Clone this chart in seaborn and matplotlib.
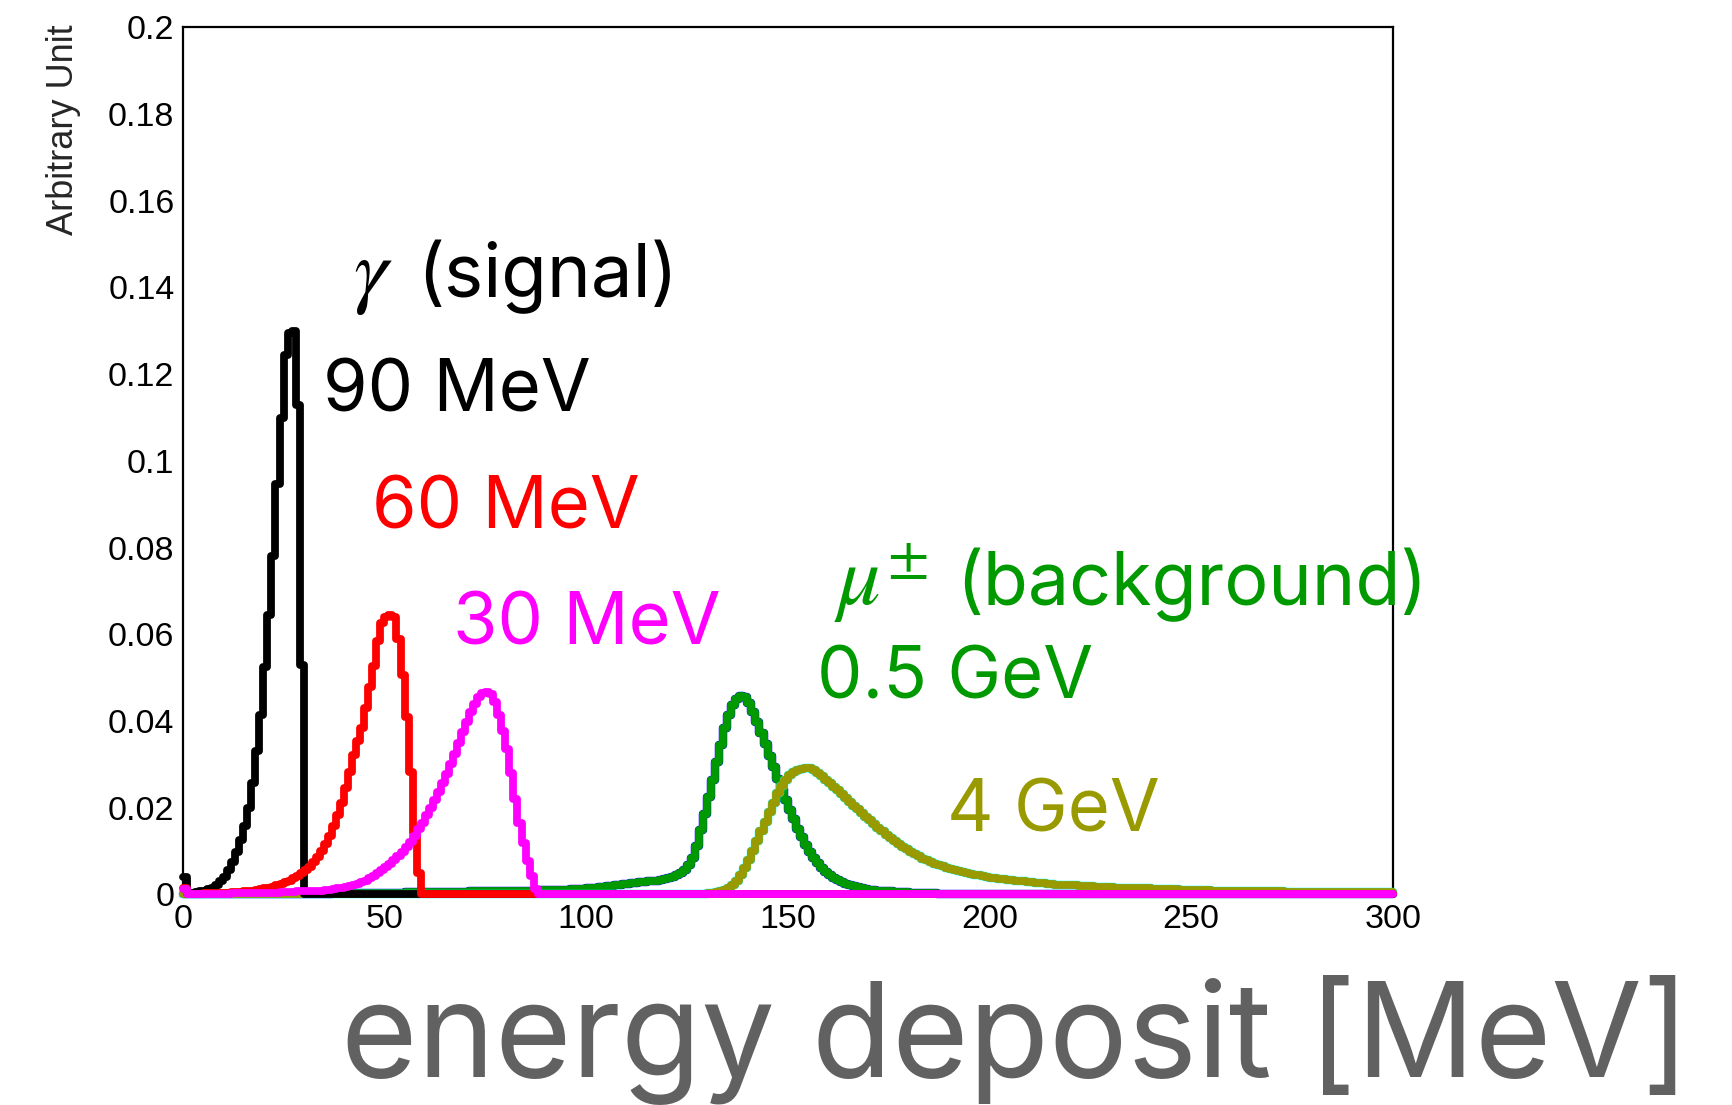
import numpy as np
import pandas as pd
import matplotlib
matplotlib.use("Agg")
import matplotlib.pyplot as plt
from matplotlib.ticker import MultipleLocator, FuncFormatter
import seaborn as sns

# ---------------------------------------------------------------------------
# Energy-deposit spectra, 1 MeV bins from 0 to 300 MeV.
# Each list holds consecutive bin contents starting at bin index *_first;
# all other bins are empty.
# ---------------------------------------------------------------------------
n_bins = 300
e_range = (0, 300)

gamma90_first = 0
gamma90 = [0.0040, 0.0003, 0.0004, 0.0005, 0.0007, 0.0009, 0.0012, 0.0016, 0.0022, 0.0030,
           0.0040, 0.0057, 0.0074, 0.0098, 0.0125, 0.0157, 0.0200, 0.0257, 0.0330, 0.0415,
           0.0525, 0.0644, 0.0780, 0.0946, 0.1100, 0.1244, 0.1295, 0.1300, 0.1130, 0.0530]

gamma60_first = 0
gamma60 = [0.0015, 0.0002, 0.0002, 0.0002, 0.0002, 0.0003, 0.0003, 0.0003, 0.0003, 0.0004,
           0.0004, 0.0004, 0.0005, 0.0005, 0.0006, 0.0007, 0.0008, 0.0009, 0.0010, 0.0012,
           0.0014, 0.0016, 0.0018, 0.0021, 0.0024, 0.0028, 0.0032, 0.0037, 0.0043, 0.0049,
           0.0056, 0.0064, 0.0074, 0.0086, 0.0100, 0.0117, 0.0135, 0.0157, 0.0183, 0.0212,
           0.0245, 0.0282, 0.0322, 0.0355, 0.0385, 0.0430, 0.0478, 0.0527, 0.0585, 0.0625,
           0.0640, 0.0645, 0.0640, 0.0590, 0.0506, 0.0410, 0.0283, 0.0141, 0.0049]

gamma30_first = 0
gamma30 = [0.0012, 0.0002, 0.0002, 0.0002, 0.0002, 0.0002, 0.0002, 0.0002, 0.0002, 0.0002,
           0.0002, 0.0002, 0.0003, 0.0003, 0.0003, 0.0003, 0.0003, 0.0003, 0.0003, 0.0003,
           0.0003, 0.0003, 0.0004, 0.0004, 0.0005, 0.0005, 0.0006, 0.0006, 0.0007, 0.0007,
           0.0007, 0.0008, 0.0008, 0.0009, 0.0009, 0.0010, 0.0011, 0.0013, 0.0014, 0.0016,
           0.0018, 0.0020, 0.0022, 0.0025, 0.0028, 0.0032, 0.0037, 0.0043, 0.0049, 0.0056,
           0.0063, 0.0071, 0.0079, 0.0088, 0.0098, 0.0110, 0.0122, 0.0136, 0.0150, 0.0166,
           0.0183, 0.0200, 0.0218, 0.0237, 0.0257, 0.0278, 0.0300, 0.0325, 0.0350, 0.0375,
           0.0398, 0.0420, 0.0440, 0.0455, 0.0465, 0.0468, 0.0462, 0.0445, 0.0415, 0.0378,
           0.0335, 0.0280, 0.0220, 0.0165, 0.0118, 0.0078, 0.0042, 0.0012]

muon05_first = 30
muon05 = [0.0001, 0.0001, 0.0001, 0.0002, 0.0002, 0.0002, 0.0002, 0.0003, 0.0003, 0.0003,
          0.0003, 0.0003, 0.0004, 0.0004, 0.0004, 0.0004, 0.0004, 0.0004, 0.0004, 0.0004,
          0.0004, 0.0004, 0.0004, 0.0004, 0.0004, 0.0005, 0.0005, 0.0005, 0.0005, 0.0005,
          0.0005, 0.0005, 0.0005, 0.0005, 0.0006, 0.0006, 0.0006, 0.0006, 0.0006, 0.0006,
          0.0006, 0.0007, 0.0007, 0.0007, 0.0007, 0.0007, 0.0007, 0.0008, 0.0008, 0.0008,
          0.0008, 0.0008, 0.0008, 0.0009, 0.0009, 0.0009, 0.0009, 0.0009, 0.0010, 0.0010,
          0.0010, 0.0010, 0.0010, 0.0011, 0.0011, 0.0011, 0.0012, 0.0012, 0.0012, 0.0013,
          0.0014, 0.0015, 0.0016, 0.0017, 0.0018, 0.0019, 0.0020, 0.0022, 0.0023, 0.0024,
          0.0025, 0.0026, 0.0027, 0.0028, 0.0029, 0.0030, 0.0031, 0.0032, 0.0034, 0.0035,
          0.0037, 0.0040, 0.0045, 0.0050, 0.0057, 0.0067, 0.0085, 0.0113, 0.0148, 0.0185,
          0.0225, 0.0265, 0.0305, 0.0345, 0.0383, 0.0414, 0.0437, 0.0452, 0.0458, 0.0455,
          0.0442, 0.0422, 0.0398, 0.0373, 0.0348, 0.0320, 0.0293, 0.0267, 0.0243, 0.0218,
          0.0195, 0.0173, 0.0152, 0.0133, 0.0115, 0.0099, 0.0085, 0.0073, 0.0062, 0.0053,
          0.0045, 0.0039, 0.0034, 0.0029, 0.0025, 0.0022, 0.0019, 0.0017, 0.0015, 0.0013,
          0.0011, 0.0010, 0.0009, 0.0008, 0.0007, 0.0007, 0.0006, 0.0006, 0.0005, 0.0005,
          0.0004, 0.0004, 0.0004, 0.0003, 0.0003, 0.0003, 0.0003, 0.0002, 0.0002, 0.0002]

muon4_first = 128
muon4 = [0.0001, 0.0002, 0.0003, 0.0004, 0.0006, 0.0008, 0.0011, 0.0015, 0.0021, 0.0032,
         0.0045, 0.0062, 0.0080, 0.0100, 0.0123, 0.0146, 0.0168, 0.0190, 0.0212, 0.0233,
         0.0250, 0.0265, 0.0276, 0.0283, 0.0287, 0.0290, 0.0292, 0.0291, 0.0288, 0.0281,
         0.0274, 0.0265, 0.0257, 0.0249, 0.0240, 0.0231, 0.0222, 0.0213, 0.0205, 0.0197,
         0.0188, 0.0179, 0.0171, 0.0162, 0.0154, 0.0146, 0.0138, 0.0131, 0.0123, 0.0116,
         0.0110, 0.0104, 0.0098, 0.0093, 0.0088, 0.0083, 0.0079, 0.0075, 0.0071, 0.0068,
         0.0065, 0.0062, 0.0059, 0.0057, 0.0054, 0.0052, 0.0050, 0.0048, 0.0046, 0.0044,
         0.0042, 0.0041, 0.0039, 0.0038, 0.0036, 0.0035, 0.0034, 0.0033, 0.0032, 0.0031,
         0.0030, 0.0029, 0.0028, 0.0027, 0.0027, 0.0026, 0.0025, 0.0024, 0.0023, 0.0023,
         0.0022, 0.0022, 0.0021, 0.0021, 0.0020, 0.0020, 0.0019, 0.0019, 0.0018, 0.0018,
         0.0017, 0.0017, 0.0017, 0.0016, 0.0016, 0.0016, 0.0015, 0.0015, 0.0015, 0.0014,
         0.0014, 0.0014, 0.0013, 0.0013, 0.0013, 0.0012, 0.0012, 0.0012, 0.0012, 0.0011,
         0.0011, 0.0011, 0.0011, 0.0010, 0.0010, 0.0010, 0.0010, 0.0009, 0.0009, 0.0009,
         0.0009, 0.0009, 0.0008, 0.0008, 0.0008, 0.0008, 0.0008, 0.0008, 0.0007, 0.0007,
         0.0007, 0.0007, 0.0007, 0.0007, 0.0007, 0.0006, 0.0006, 0.0006, 0.0006, 0.0006,
         0.0006, 0.0006, 0.0006, 0.0006, 0.0005, 0.0005, 0.0005, 0.0005, 0.0005, 0.0005,
         0.0005, 0.0005, 0.0005, 0.0005, 0.0005, 0.0005, 0.0005, 0.0005, 0.0005, 0.0005,
         0.0005, 0.0005]

# drawing order, colours and line widths of the spectra
samples = [
    ("mu05_plus", muon05_first, muon05, "#0000ff", 6.1),
    ("mu05",      muon05_first, muon05, "#009900", 5.6),
    ("mu4_plus",  muon4_first,  muon4,  "#00ffff", 6.1),
    ("mu4",       muon4_first,  muon4,  "#999900", 5.6),
    ("g90",       gamma90_first, gamma90, "#000000", 5.6),
    ("g60",       gamma60_first, gamma60, "#ff0000", 5.6),
    ("g30",       gamma30_first, gamma30, "#ff00ff", 5.6),
]

centers = np.arange(n_bins) + 0.5
frames = []
for name, first, vals, _, _ in samples:
    h = np.zeros(n_bins)
    h[first:first + len(vals)] = vals
    frames.append(pd.DataFrame({"edep": centers, "content": h, "sample": name}))
spectra = pd.concat(frames, ignore_index=True)

# ---------------------------------------------------------------------------
sns.set_style("white")
plt.rcParams["font.family"] = ["Liberation Sans", "DejaVu Sans"]
plt.rcParams["mathtext.fontset"] = "stix"

fig = plt.figure(figsize=(17.32, 11.05), dpi=100)
ax = fig.add_axes([0.1055, 0.1905, 0.6986, 0.7848])

for name, first, vals, color, lw in samples:
    sns.histplot(data=spectra[spectra["sample"] == name], x="edep", weights="content",
                 bins=n_bins, binrange=e_range, element="step", fill=False,
                 color=color, linewidth=lw, ax=ax, zorder=3, clip_on=False)

ax.set_xlim(0, 300)
ax.set_ylim(0, 0.2)
ax.set_xlabel("")
ax.set_ylabel("")

for s in ax.spines.values():
    s.set_linewidth(1.6)
    s.set_color("black")

ax.xaxis.set_major_locator(MultipleLocator(50))
ax.xaxis.set_minor_locator(MultipleLocator(10))
ax.yaxis.set_major_locator(MultipleLocator(0.02))
ax.yaxis.set_minor_locator(MultipleLocator(0.005))
ax.yaxis.set_major_formatter(FuncFormatter(lambda v, p: f"{v:g}"))
ax.xaxis.set_major_formatter(FuncFormatter(lambda v, p: f"{v:g}"))

ax.tick_params(axis="both", which="both", direction="in", colors="black",
               top=False, right=False, labelsize=24.5, width=1.6)
ax.tick_params(axis="y", which="major", length=26, pad=6)
ax.tick_params(axis="y", which="minor", length=13)
ax.tick_params(axis="x", which="major", length=14, pad=7)
ax.tick_params(axis="x", which="minor", length=6)

fig.text(0.0364, 0.9775, "Arbitrary Unit", rotation=90, ha="center", va="top",
         fontsize=26)

# labels of the individual spectra
ann_font = ["Inter", "DejaVu Sans"]
ann = dict(family=ann_font, ha="left", va="baseline")
ax.text(42.2, 0.1378, r"$\gamma$", color="black", fontsize=62, **ann)
ax.text(58.2, 0.1378, "(signal)", color="black", fontsize=53.5, **ann)
ax.text(34.7, 0.1114, "90 MeV", color="black", fontsize=52, **ann)
ax.text(46.9, 0.0844, "60 MeV", color="#ff0000", fontsize=52, **ann)
ax.text(67.0, 0.0577, "30 MeV", color="#ff00ff", fontsize=52, **ann)
ax.text(161.5, 0.0667, r"$\mu^{\pm}$", color="#009900", fontsize=62, **ann)
ax.text(191.8, 0.0667, "(background)", color="#009900", fontsize=53, **ann)
ax.text(157.2, 0.0453, "0.5 GeV", color="#009900", fontsize=52, **ann)
ax.text(189.5, 0.0146, "4 GeV", color="#999900", fontsize=52, **ann)

fig.text(0.9755, 0.0253, "energy deposit [MeV]", color="#616161", fontsize=94.5,
         family=ann_font, ha="right", va="baseline")

fig.savefig("out.png", dpi=100, facecolor="white")
